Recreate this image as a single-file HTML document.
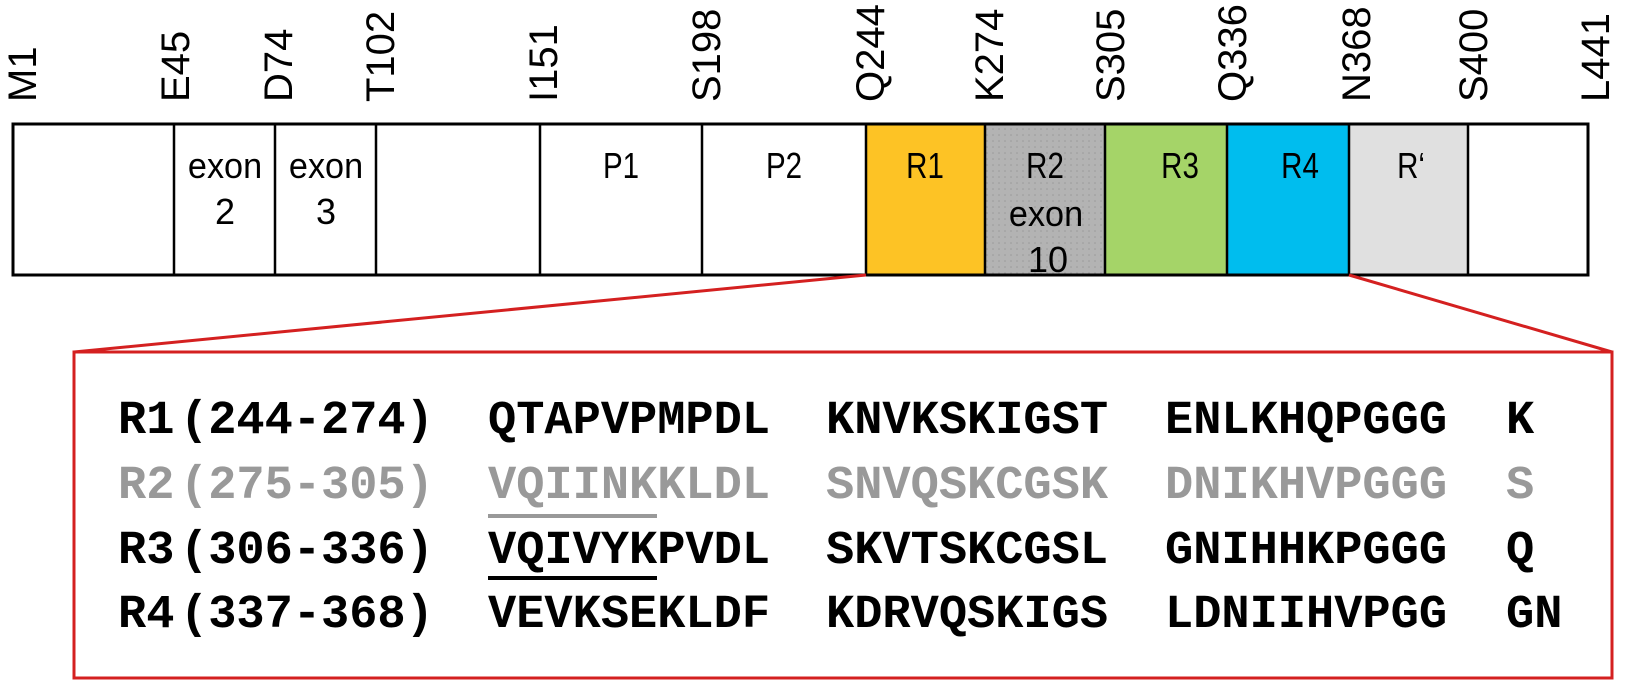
<!DOCTYPE html>
<html><head><meta charset="utf-8"><style>
html,body{margin:0;padding:0;background:#fff;}
svg{display:block;}
.lab{font-family:"Liberation Sans",Arial,sans-serif;font-size:40px;fill:#000;}
.bx{font-family:"Liberation Sans",Arial,sans-serif;font-size:36px;fill:#000;text-anchor:middle;}
.seq{font-family:"Liberation Mono","Courier New",monospace;font-weight:bold;font-size:47px;}
</style></head><body>
<svg width="1648" height="683" viewBox="0 0 1648 683" xmlns="http://www.w3.org/2000/svg">
<defs>
<pattern id="dots" width="6" height="6" patternUnits="userSpaceOnUse">
<rect width="6" height="6" fill="#b3b3b3"/><circle cx="3" cy="3" r="0.8" fill="#9a9a9a"/>
</pattern>
</defs>
<rect x="866" y="124" width="119" height="151" fill="#FDC325"/>
<rect x="985" y="124" width="120" height="151" fill="url(#dots)"/>
<rect x="1105" y="124" width="122" height="151" fill="#A5D468"/>
<rect x="1227" y="124" width="122" height="151" fill="#00BDEE"/>
<rect x="1349" y="124" width="119" height="151" fill="#E0E0E0"/>
<rect x="13" y="124" width="1575" height="151" fill="none" stroke="#000" stroke-width="3"/>
<g stroke="#000" stroke-width="2.5">
<line x1="174" y1="124" x2="174" y2="275"/><line x1="275" y1="124" x2="275" y2="275"/>
<line x1="376" y1="124" x2="376" y2="275"/><line x1="540" y1="124" x2="540" y2="275"/>
<line x1="702" y1="124" x2="702" y2="275"/><line x1="866" y1="124" x2="866" y2="275"/>
<line x1="985" y1="124" x2="985" y2="275"/><line x1="1105" y1="124" x2="1105" y2="275"/>
<line x1="1227" y1="124" x2="1227" y2="275"/><line x1="1349" y1="124" x2="1349" y2="275"/>
<line x1="1468" y1="124" x2="1468" y2="275"/>
</g>
<g class="lab">
<text transform="translate(36,102) rotate(-90)">M1</text>
<text transform="translate(189,102) rotate(-90)">E45</text>
<text transform="translate(292,102) rotate(-90)">D74</text>
<text transform="translate(394,102) rotate(-90)">T102</text>
<text transform="translate(557,102) rotate(-90)">I151</text>
<text transform="translate(720,102) rotate(-90)">S198</text>
<text transform="translate(884,102) rotate(-90)">Q244</text>
<text transform="translate(1003,102) rotate(-90)">K274</text>
<text transform="translate(1124,102) rotate(-90)">S305</text>
<text transform="translate(1246,102) rotate(-90)">Q336</text>
<text transform="translate(1370,102) rotate(-90)">N368</text>
<text transform="translate(1487,102) rotate(-90)">S400</text>
<text transform="translate(1609,102) rotate(-90)">L441</text>
</g>
<g class="bx">
<text transform="translate(225,178) scale(0.95,1)">exon</text><text transform="translate(225,224)">2</text>
<text transform="translate(326,178) scale(0.95,1)">exon</text><text transform="translate(326,224)">3</text>
<text transform="translate(621,178) scale(0.82,1)">P1</text>
<text transform="translate(784,178) scale(0.82,1)">P2</text>
<text transform="translate(925,178) scale(0.82,1)">R1</text>
<text transform="translate(1045,178) scale(0.82,1)">R2</text>
<text transform="translate(1046,226) scale(0.95,1)">exon</text>
<text transform="translate(1048,272)">10</text>
<text transform="translate(1180,178) scale(0.82,1)">R3</text>
<text transform="translate(1300,178) scale(0.82,1)">R4</text>
<text transform="translate(1411,178) scale(0.82,1)">R‘</text>
</g>
<g stroke="#d42020" stroke-width="3" fill="none">
<line x1="866" y1="275" x2="74" y2="352"/>
<line x1="1349" y1="275" x2="1612" y2="352"/>
<rect x="74" y="352" width="1538" height="326"/>
</g>
<g class="seq" fill="#000">
<text x="118" y="433">R1</text><text x="180" y="433">(244-274)</text>
<text x="488" y="433">QTAPVPMPDL</text><text x="826" y="433">KNVKSKIGST</text>
<text x="1165" y="433">ENLKHQPGGG</text><text x="1506" y="433">K</text>
</g>
<g class="seq" fill="#999">
<text x="118" y="498">R2</text><text x="180" y="498">(275-305)</text>
<text x="488" y="498">VQIINKKLDL</text><text x="826" y="498">SNVQSKCGSK</text>
<text x="1165" y="498">DNIKHVPGGG</text><text x="1506" y="498">S</text>
</g>
<rect x="488" y="514" width="169" height="4" fill="#999"/>
<g class="seq" fill="#000">
<text x="118" y="563">R3</text><text x="180" y="563">(306-336)</text>
<text x="488" y="563">VQIVYKPVDL</text><text x="826" y="563">SKVTSKCGSL</text>
<text x="1165" y="563">GNIHHKPGGG</text><text x="1506" y="563">Q</text>
<text x="118" y="627">R4</text><text x="180" y="627">(337-368)</text>
<text x="488" y="627">VEVKSEKLDF</text><text x="826" y="627">KDRVQSKIGS</text>
<text x="1165" y="627">LDNIIHVPGG</text><text x="1506" y="627">GN</text>
</g>
<rect x="488" y="576" width="169" height="4" fill="#000"/>
</svg>
</body></html>
